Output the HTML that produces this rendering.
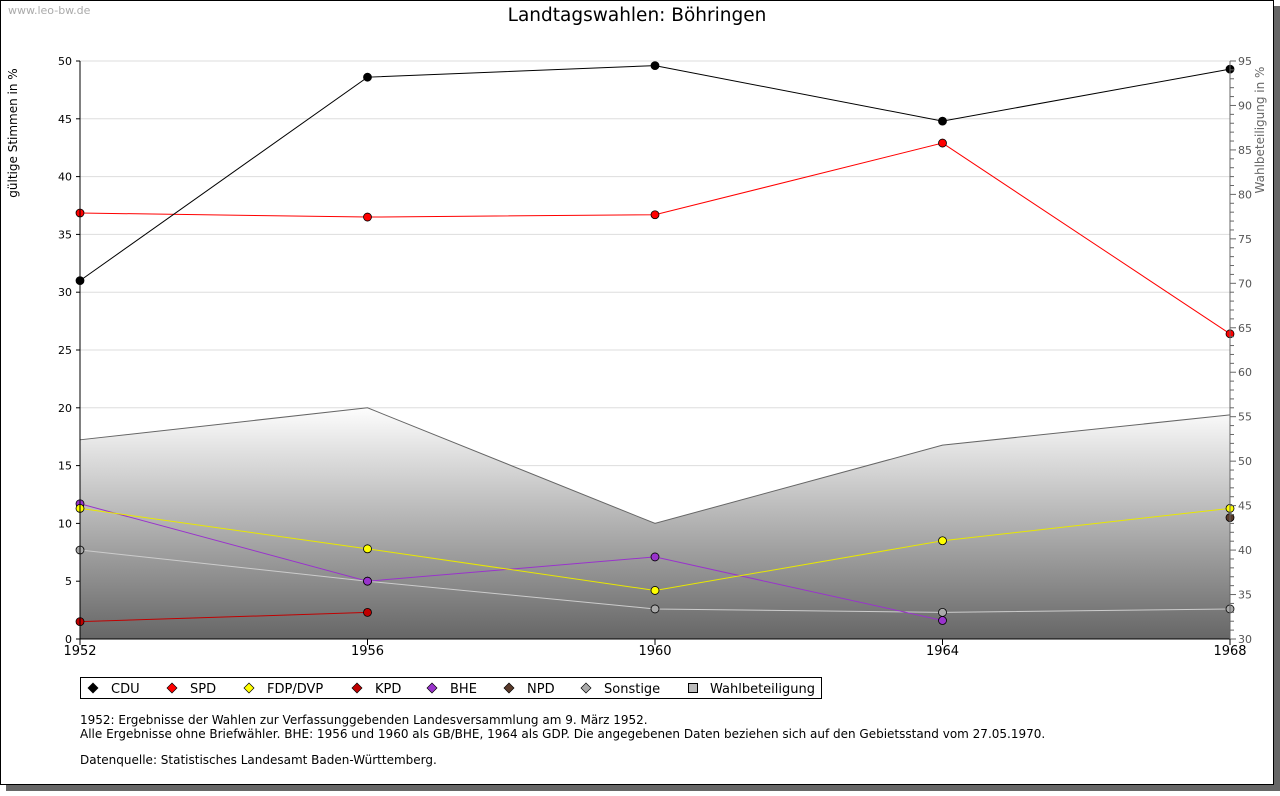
<!DOCTYPE html>
<html><head><meta charset="utf-8"><style>
body{margin:0;background:#fff;font-family:"Liberation Sans","DejaVu Sans",sans-serif;}
svg text{font-family:"DejaVu Sans","Liberation Sans",sans-serif;}
</style></head><body>
<svg id="c" width="1280" height="791" xmlns="http://www.w3.org/2000/svg">
<defs><linearGradient id="g" gradientUnits="userSpaceOnUse" x1="0" y1="405" x2="0" y2="639"><stop offset="0" stop-color="#ffffff"/><stop offset="1" stop-color="#666666"/></linearGradient></defs>
<rect x="6" y="6" width="1274" height="785" fill="#666"/>
<rect x="0.5" y="0.5" width="1273" height="784" fill="#fff" stroke="#000"/>
<text x="8" y="14" font-size="11" fill="#aaa">www.leo-bw.de</text>
<text x="637" y="21" font-size="18.5" text-anchor="middle">Landtagswahlen: Böhringen</text>
<text transform="translate(17,133) rotate(-90)" font-size="12" text-anchor="middle">gültige Stimmen in %</text>
<text transform="translate(1264,130) rotate(-90)" font-size="12" fill="#666" text-anchor="middle">Wahlbeteiligung in %</text>
<g id="grid"></g><g id="area"></g><g id="lines"></g><g id="axes"></g>
<rect x="80.5" y="677.5" width="741" height="21" fill="#fff" stroke="#000"/>
<g id="legend"></g>
<text font-size="12"><tspan x="80" y="724">1952: Ergebnisse der Wahlen zur Verfassunggebenden Landesversammlung am 9. März 1952.</tspan><tspan x="80" y="738">Alle Ergebnisse ohne Briefwähler. BHE: 1956 und 1960 als GB/BHE, 1964 als GDP. Die angegebenen Daten beziehen sich auf den Gebietsstand vom 27.05.1970.</tspan><tspan x="80" y="764">Datenquelle: Statistisches Landesamt Baden-Württemberg.</tspan></text>
</svg>
<script>
const years=[1952,1956,1960,1964,1968];
const cdu=[31.0,48.6,49.6,44.8,49.3];
const spd=[36.85,36.5,36.7,42.9,26.4];
const fdp=[11.3,7.8,4.2,8.5,11.3];
const kpd=[1.5,2.3,null,null,null];
const bhe=[11.7,5.0,7.1,1.6,null];
const npd=[null,null,null,null,10.5];
const sonst=[7.7,5.0,2.6,2.3,2.6];
const turnout=[52.4,56.0,43.0,51.8,55.2];
const yTicks=[0,5,10,15,20,25,30,35,40,45,50];
const y2Ticks=[30,35,40,45,50,55,60,65,70,75,80,85,90,95];
const NS="http://www.w3.org/2000/svg";
const X=y=>80+(y-1952)/16*1150;
const Y=v=>639-v/50*578;
const Y2=v=>639-(v-30)/65*578;
function mk(t,a,p){const e=document.createElementNS(NS,t);for(const k in a)e.setAttribute(k,a[k]);document.getElementById(p).appendChild(e);return e;}
yTicks.forEach(t=>{if(t>0){const l=mk('line',{x1:80,x2:1230,y1:Y(t),y2:Y(t),stroke:'#ddd'},'grid');

}
const tx=mk('text',{x:72,y:Y(t)+4,'font-size':11,'text-anchor':'end'},'axes');tx.textContent=t;


mk('line',{x1:76,x2:80,y1:Y(t),y2:Y(t),stroke:'#000'},'axes');});
for(let v=30;v<=95;v++){mk('line',{x1:1230,x2:v%5?1234:1236,y1:Y2(v),y2:Y2(v),stroke:'#666'},'axes');}
y2Ticks.forEach(t=>{const tx=mk('text',{x:1238,y:Y2(t)+4,'font-size':11,fill:'#555'},'axes');tx.textContent=t;

});
years.forEach(y=>{const tx=mk('text',{x:X(y),y:655,'font-size':13,'text-anchor':'middle'},'axes');tx.textContent=y;


mk('line',{x1:X(y),x2:X(y),y1:639,y2:645,stroke:'#000'},'axes');});
mk('line',{x1:80,x2:80,y1:61,y2:639,stroke:'#000'},'axes');
mk('line',{x1:80,x2:1230,y1:639,y2:639,stroke:'#000'},'axes');
mk('line',{x1:1230,x2:1230,y1:61,y2:639,stroke:'#666'},'axes');
let d='M'+X(years[0])+' 639 '+years.map((y,i)=>'L'+X(y)+' '+Y2(turnout[i])).join(' ')+' L'+X(years[4])+' 639Z';
const ar=mk('path',{d:d,fill:'url(#g)'},'area');


mk('polyline',{points:years.map((y,i)=>X(y)+','+Y2(turnout[i])).join(' '),fill:'none',stroke:'#666'},'area');
const series=[['sonstige',sonst,'#aaa','#ccc'],['npd',npd,'#5a3a2a','#5a3a2a'],['kpd',kpd,'#c00000','#c00000'],['bhe',bhe,'#9933cc','#9933cc'],['fdp',fdp,'#ffff00','#e8e800'],['spd',spd,'#ff0000','#ff0000'],['cdu',cdu,'#000','#000']];
series.forEach(([n,arr,fc,lc])=>{let pts=[];arr.forEach((v,i)=>{if(v!=null)pts.push(X(years[i])+','+Y(v));});
const pl=mk('polyline',{points:pts.join(' '),fill:'none',stroke:lc},'lines');


arr.forEach((v,i)=>{if(v==null)return;const c=mk('circle',{cx:X(years[i]),cy:Y(v),r:4,fill:fc,stroke:'#000','stroke-width':0.8},'lines');

});});
const leg=[['CDU','#000',93],['SPD','#ff0000',172],['FDP/DVP','#ffff00',249],['KPD','#c00000',357],['BHE','#9933cc',432],['NPD','#5a3a2a',509],['Sonstige','#aaa',586]];
leg.forEach(([t,c,x])=>{const m=mk('path',{d:`M${x} 683 l5 5 l-5 5 l-5 -5z`,fill:c,stroke:'#000','stroke-width':0.7},'legend');


const tx=mk('text',{x:x+18,y:693,'font-size':13},'legend');tx.textContent=t;

});
const sq=mk('rect',{x:688.5,y:683.5,width:9,height:9,fill:'#bbb',stroke:'#000'},'legend');


const tw=mk('text',{x:710,y:693,'font-size':13},'legend');tw.textContent='Wahlbeteiligung';


</script>
</body></html>
